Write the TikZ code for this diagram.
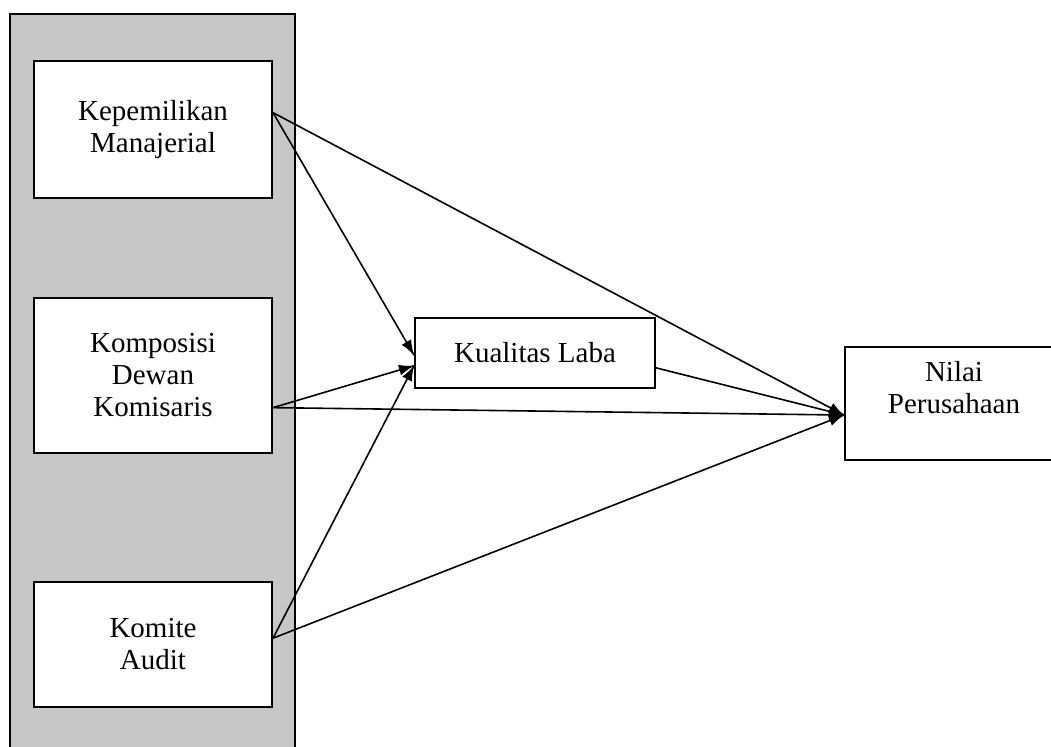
\documentclass[tikz,border=0pt]{standalone}
\usepackage{fontspec}
\setmainfont{Liberation Serif}
\tikzset{->/.style = {decoration={markings, mark=at position 1 with {\arrow{Latex[length=7.5pt,width=5.5pt]}}}, postaction={decorate}}}
\tikzset{box/.style = {draw, line width=1pt, fill=white, inner sep=0pt, align=center,
                       font=\fontsize{14.5}{16}\selectfont}}
\usetikzlibrary{arrows.meta,
                 decorations.markings}

\begin{document}
\begin{tikzpicture}[x=0.5pt, y=-0.5pt]
  	\useasboundingbox (0,0) rectangle (1051,747);
  	\filldraw[fill=black!22, line width=1pt] (10,14) rectangle (295,770);
  	\node[box, minimum width=119pt, minimum height=68.5pt] (km) at (153,129.5) {Kepemilikan\\Manajerial};
  	\node[box, minimum width=119pt, minimum height=77.5pt] (kdk) at (153,375.5) {Komposisi\\Dewan\\Komisaris};
  	\node[box, minimum width=119pt, minimum height=62.5pt] (ka) at (153,644.5) {Komite\\Audit};
  	\node[box, minimum width=120pt, minimum height=35pt] (kl) at (535,353) {Kualitas Laba};
  	\node[box, minimum width=109pt, minimum height=56.5pt, text depth=16pt] (np) at (954,403.5) {Nilai\\Perusahaan};
    \draw[->, line width=0.8pt] (km.8) -- (kl.181);
    \draw[->, line width=0.8pt] (kdk.-15) -- (kl.186);
    \draw[->, line width=0.8pt] (ka.3) -- (kl.186);
    \draw[->, line width=0.8pt] (km.8) -- (np.186);
    \draw[->, line width=0.8pt] (kdk.-15) -- (np.186);
    \draw[->, line width=0.8pt] (ka.3) -- (np.186);
    \draw[->, line width=0.8pt] (kl.-7) -- (np.186);
  \end{tikzpicture}
\end{document}
